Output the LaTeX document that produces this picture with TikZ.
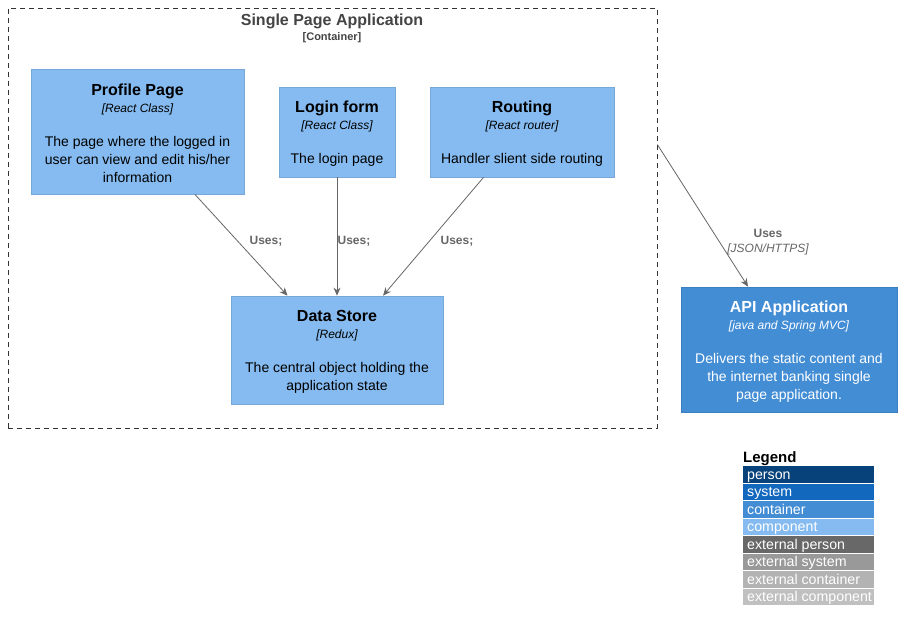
\documentclass[tikz,border=0pt]{standalone}
\usepackage{fontspec}
\setmainfont{Liberation Sans}
\usetikzlibrary{arrows.meta,calc}
\definecolor{compfill}{HTML}{85BBF0}
\definecolor{compline}{HTML}{78A8D8}
\definecolor{contfill}{HTML}{438DD5}
\definecolor{contline}{HTML}{3C7FC0}
\definecolor{persfill}{HTML}{08427B}
\definecolor{sysfill}{HTML}{1168BD}
\definecolor{extpers}{HTML}{686868}
\definecolor{extsys}{HTML}{999999}
\definecolor{extcont}{HTML}{B3B3B3}
\definecolor{extcomp}{HTML}{C0C0C0}
\definecolor{arrowgray}{HTML}{666666}
\definecolor{titlegray}{HTML}{444444}
\newcommand{\elemtext}[3]{{\fontsize{16}{17}\selectfont\bfseries\rule{0pt}{15.7pt}#1}\\[-1pt]{\fontsize{12}{17}\selectfont\itshape [#2]}\\[16pt]#3}
\tikzset{
  compbox/.style={draw=compline, fill=compfill, line width=0.8pt, align=center, inner sep=0pt,
    font=\fontsize{14}{18}\selectfont, text=black},
  contbox/.style={draw=contline, fill=contfill, line width=0.8pt, align=center, inner sep=0pt,
    font=\fontsize{14}{18}\selectfont, text=white},
  boundary/.style={draw=black!80, dashed, dash pattern=on 5pt off 4pt, line width=0.8pt, inner sep=0pt},
  relarrow/.style={draw=arrowgray, line width=0.8pt, -{Stealth[length=8pt,width=7pt]}},
  rellabel/.style={text=arrowgray, font=\fontsize{12}{13}\selectfont\bfseries, inner sep=0pt},
  relstereo/.style={text=arrowgray, font=\fontsize{12}{13}\selectfont\itshape, inner sep=0pt},
  legrow/.style={anchor=north west, minimum width=131pt, minimum height=16.5pt, inner sep=0pt,
    text height=11.5pt, text depth=2pt, text=white, font=\fontsize{14.2}{15}\selectfont},
}
\newcommand{\legtext}[1]{\makebox[127pt][l]{\hspace{2pt}#1}}
\begin{document}
\begin{tikzpicture}[x=1pt,y=-1pt]
\useasboundingbox[fill=white] (0,0) rectangle (906,623);
% container boundary
\node[boundary, minimum width=649pt, minimum height=420pt] (spa) at (332.5,218) {};
\node[text=titlegray, font=\fontsize{16}{19}\selectfont\bfseries, inner sep=0pt] (spatitle) at (332,21.5) {Single Page Application};
\node[text=titlegray, font=\fontsize{11}{13}\selectfont\bfseries, inner sep=0pt] (spastereo) at (332,38) {[Container]};
% components
\node[compbox, minimum width=213pt, minimum height=125pt] (profile) at (137.5,131.5)
  {\elemtext{Profile Page}{React Class}{The page where the logged in\\user can view and edit his/her\\information}};
\node[compbox, minimum width=116pt, minimum height=90pt] (login) at (337,132)
  {\elemtext{Login form}{React Class}{The login page}};
\node[compbox, minimum width=184pt, minimum height=90pt] (routing) at (522,132)
  {\elemtext{Routing}{React router}{Handler slient side routing}};
\node[compbox, minimum width=212pt, minimum height=108pt] (store) at (337,350)
  {\elemtext{Data Store}{Redux}{The central object holding the\\application state}};
\node[contbox, minimum width=216pt, minimum height=125pt] (api) at (789,349.5)
  {\elemtext{API Application}{java and Spring MVC}{Delivers the static content and\\the internet banking single\\page application.}};
% relations
\draw[relarrow] (profile) -- (store);
\draw[relarrow] (login) -- (store);
\draw[relarrow] (routing) -- (store);
\coordinate (spaout) at ($(spa.north east)+(0,137)$);
\coordinate (apiin) at ($(api.north)+(-41,0)$);
\draw[relarrow] (spaout) -- (apiin);
\node[rellabel] (l1) at (266,241) {Uses;};
\node[rellabel] (l2) at (354,241) {Uses;};
\node[rellabel] (l3) at (457,241) {Uses;};
\node[rellabel] (l4) at (768,233) {Uses};
\node[relstereo] (l4s) at (768,249) {[JSON/HTTPS]};
% legend
\node[anchor=west, inner sep=0pt, font=\fontsize{15}{16}\selectfont\bfseries] (legtitle) at (743,459) {Legend};
\node[legrow, fill=persfill] (lg1) at (743,466) {\legtext{person}};
\node[legrow, fill=sysfill] (lg2) at (743,483.5) {\legtext{system}};
\node[legrow, fill=contfill] (lg3) at (743,501) {\legtext{container}};
\node[legrow, fill=compfill] (lg4) at (743,518.5) {\legtext{component}};
\node[legrow, fill=extpers] (lg5) at (743,536) {\legtext{external person}};
\node[legrow, fill=extsys] (lg6) at (743,553.5) {\legtext{external system}};
\node[legrow, fill=extcont] (lg7) at (743,571) {\legtext{external container}};
\node[legrow, fill=extcomp] (lg8) at (743,588.5) {\legtext{external component}};
\end{tikzpicture}
\end{document}
